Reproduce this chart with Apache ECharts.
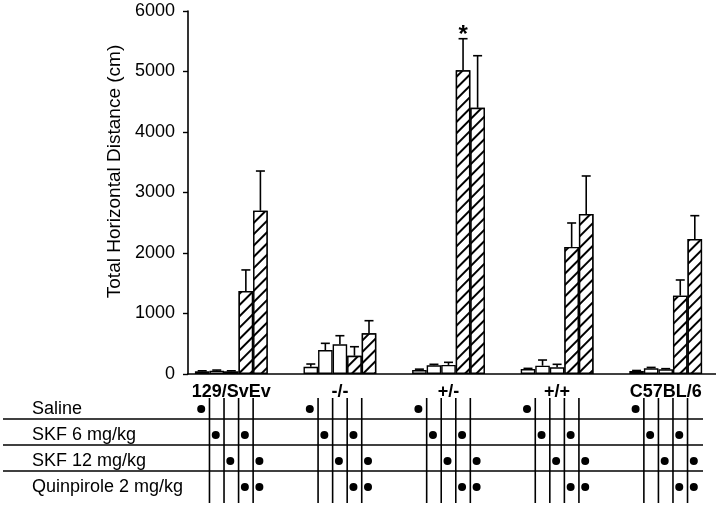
<!DOCTYPE html>
<html><head><meta charset="utf-8">
<script src="https://cdn.jsdelivr.net/npm/echarts@6/dist/echarts.min.js"></script>
<style>html,body{margin:0;padding:0;background:#fff}#c{width:720px;height:508px}</style>
</head><body><div id="c"></div>
<script>
// ---- data ----
const genotypes = ['129/SvEv', '-/-', '+/-', '+/+', 'C57BL/6'];
const conditions = ['Saline', 'SKF 6', 'SKF 12', 'SKF 6 + Quinpirole', 'SKF 12 + Quinpirole'];
const rowLabels = ['Saline', 'SKF 6 mg/kg', 'SKF 12 mg/kg', 'Quinpirole 2 mg/kg'];
const yTicks = [0, 1000, 2000, 3000, 4000, 5000, 6000];

const salineMean = [45, 120, 66, 83, 50];
const skf6Mean = [55, 397, 143, 137, 94];
const skf12Mean = [45, 490, 150, 110, 78];
const skf6QuinMean = [1370, 302, 5020, 2100, 1295];
const skf12QuinMean = [2700, 672, 4400, 2645, 2231];

const salineErr = [8, 45, 14, 10, 8];
const skf6Err = [10, 110, 17, 94, 15];
const skf12Err = [8, 143, 43, 50, 10];
const skf6QuinErr = [350, 149, 522, 396, 259];
const skf12QuinErr = [655, 209, 861, 628, 386];

// rows (of rowLabels) marked with a dot for each condition column
const doseRows = [[0], [1], [2], [1, 3], [2, 3]];
// significance marks: [genotype index, condition index, text]
const sigMarks = [[2, 3, '*']];

// ---- chart ----
const means = [salineMean, skf6Mean, skf12Mean, skf6QuinMean, skf12QuinMean];
const errs = [salineErr, skf6Err, skf12Err, skf6QuinErr, skf12QuinErr];
const FONT = '"Liberation Sans", Arial, Helvetica, sans-serif';
const CAT_GAP = 0.33;
const NC = conditions.length;
function barW(api) { return api.size([1, 0])[0] * (1 - CAT_GAP) / NC; }

const hatch = {
  symbol: 'rect', symbolSize: 1, color: '#000', backgroundColor: '#fff',
  dashArrayX: [1, 0], dashArrayY: [1.6, 5.4], rotation: -Math.PI / 4
};

const barSeries = means.map((arr, i) => ({
  type: 'bar', name: conditions[i], xAxisIndex: 0, yAxisIndex: 0,
  data: arr, barGap: '0%', barCategoryGap: (CAT_GAP * 100) + '%',
  itemStyle: Object.assign({ color: '#fff', borderColor: '#000', borderWidth: 1.4 },
    i >= 3 ? { decal: hatch } : {}),
  emphasis: { disabled: true }, animation: false, z: 2
}));

const errData = [];
means.forEach((arr, c) => arr.forEach((m, g) => errData.push([g, m, errs[c][g], c])));

const errSeries = {
  type: 'custom', xAxisIndex: 0, yAxisIndex: 0, data: errData, z: 3, animation: false,
  encode: { x: 0, y: 1 },
  renderItem(params, api) {
    const g = api.value(0), m = api.value(1), e = api.value(2), c = api.value(3);
    const bw = barW(api);
    const b = api.coord([g, m]);
    const t = api.coord([g, m + e]);
    const x = b[0] + (c - (NC - 1) / 2) * bw;
    const st = { stroke: '#000', lineWidth: 1.6 };
    return { type: 'group', children: [
      { type: 'line', shape: { x1: x, y1: b[1], x2: x, y2: t[1] }, style: st },
      { type: 'line', shape: { x1: x - 4.5, y1: t[1], x2: x + 4.5, y2: t[1] }, style: st }
    ] };
  }
};

const sigSeries = {
  type: 'custom', xAxisIndex: 0, yAxisIndex: 0, z: 4, animation: false,
  data: sigMarks.map(s => [s[0], means[s[1]][s[0]] + errs[s[1]][s[0]], s[1]]),
  encode: { x: 0, y: 1 },
  renderItem(params, api) {
    const g = api.value(0), top = api.value(1), c = api.value(2);
    const p = api.coord([g, top]);
    const x = p[0] + (c - (NC - 1) / 2) * barW(api);
    return { type: 'text', x: x, y: p[1] + 9, style: {
      text: sigMarks[params.dataIndex][2], fill: '#000', font: 'bold 24px ' + FONT,
      align: 'center', verticalAlign: 'bottom' } };
  }
};

const dotData = [];
genotypes.forEach((_, g) => doseRows.forEach((rows, c) => rows.forEach(r => dotData.push([g, r, c]))));
const dotSeries = {
  type: 'custom', xAxisIndex: 1, yAxisIndex: 1, data: dotData, animation: false,
  renderItem(params, api) {
    const g = api.value(0), r = api.value(1), c = api.value(2);
    const p = api.coord([g, r]);
    const x = p[0] + (c - (NC - 1) / 2) * barW(api) - 1;
    return { type: 'circle', shape: { cx: x, cy: p[1], r: 4 }, style: { fill: '#000' } };
  }
};

const vData = [];
genotypes.forEach((_, g) => { for (let k = 1; k < NC; k++) vData.push([g, 0, k]); });
const vLineSeries = {
  type: 'custom', xAxisIndex: 1, yAxisIndex: 1, data: vData, animation: false,
  renderItem(params, api) {
    const g = api.value(0), k = api.value(2);
    const p = api.coord([g, 0]);
    const x = p[0] + (k - NC / 2) * barW(api);
    const cs = params.coordSys;
    return { type: 'line', shape: { x1: x, y1: cs.y + 2, x2: x, y2: cs.y + cs.height + 3 },
      style: { stroke: '#000', lineWidth: 1.6 } };
  }
};

const hData = [];
for (let r = 1; r < rowLabels.length; r++) hData.push([0, r]);
const hLineSeries = {
  type: 'custom', xAxisIndex: 1, yAxisIndex: 1, data: hData, animation: false,
  renderItem(params, api) {
    const r = api.value(1);
    const cs = params.coordSys;
    const y = cs.y + r * cs.height / rowLabels.length - 3;
    return { type: 'line', shape: { x1: 3, y1: y, x2: 703, y2: y },
      style: { stroke: '#000', lineWidth: 1.3 } };
  }
};

const chart = echarts.init(document.getElementById('c'), null, { renderer: 'canvas' });
chart.setOption({
  animation: false,
  backgroundColor: '#fff',
  textStyle: { fontFamily: FONT },
  grid: [
    { left: 177, right: 0, top: 11, height: 363 },
    { left: 177, right: 0, top: 396, height: 104 }
  ],
  xAxis: [
    { type: 'category', gridIndex: 0, data: genotypes,
      axisLine: { show: false }, axisTick: { show: false },
      axisLabel: { color: '#000', fontSize: 18, fontWeight: 'bold', margin: 9, fontFamily: FONT } },
    { type: 'category', gridIndex: 1, data: genotypes, show: false }
  ],
  yAxis: [
    { type: 'value', gridIndex: 0, min: yTicks[0], max: yTicks[yTicks.length - 1], interval: 1000,
      offset: -11,
      name: 'Total Horizontal Distance (cm)', nameLocation: 'middle', nameGap: 45,
      nameTextStyle: { color: '#000', fontSize: 19, fontFamily: FONT, padding: [0, 0, 0, 42] },
      axisLine: { show: true, lineStyle: { color: '#000', width: 1.6 } },
      axisTick: { show: true, length: 5, lineStyle: { color: '#000', width: 1.4 } },
      axisLabel: { color: '#000', fontSize: 18, margin: 13, fontFamily: FONT,
        formatter: v => String(v) },
      splitLine: { show: false } },
    { type: 'category', gridIndex: 1, data: rowLabels, inverse: true,
      axisLine: { show: false }, axisTick: { show: false }, splitLine: { show: false },
      axisLabel: { color: '#000', fontSize: 18, align: 'left', margin: 145, fontFamily: FONT } }
  ],
  series: [...barSeries, errSeries, sigSeries, dotSeries, vLineSeries, hLineSeries]
});

// baseline of the bar chart, from the y axis to the right end
const y0 = chart.convertToPixel({ gridIndex: 0 }, [0, 0])[1];
chart.setOption({ graphic: [{ type: 'line', shape: { x1: 187, y1: y0, x2: 716, y2: y0 },
  style: { stroke: '#000', lineWidth: 1.6 }, z: 10 }] });
</script>
</body></html>
